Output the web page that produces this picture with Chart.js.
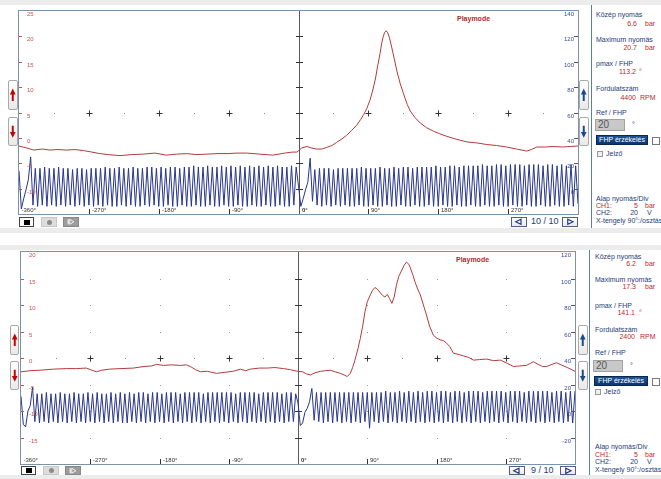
<!DOCTYPE html>
<html><head><meta charset="utf-8">
<script src="https://cdn.jsdelivr.net/npm/chart.js@4.4.1/dist/chart.umd.min.js"></script>
<style>
body{margin:0;background:#fff;width:661px;height:479px;overflow:hidden;position:relative;font-family:"Liberation Sans",Arial,sans-serif;}
.a{position:absolute;}
.band{position:absolute;background:#ececec;left:0;width:661px;}
.t{position:absolute;font-size:7px;white-space:nowrap;line-height:8px;height:8px;}
.nv{color:#1d3c78;}
.rd{color:#c0282d;}
.r{text-align:right;}
.btn{position:absolute;box-sizing:border-box;border:1px solid #a8a8a8;border-radius:2px;background:linear-gradient(#ffffff,#e9e9e9);}
.btn svg{display:block;width:100%;height:100%;}
.chk{position:absolute;box-sizing:border-box;border:1px solid #7a7a7a;background:#fff;}
.inp{position:absolute;box-sizing:border-box;border:1px solid #a2a2a2;background:#c8c8c8;color:#555;font-size:10px;line-height:10px;padding-left:2px;}
.fhp{position:absolute;box-sizing:border-box;border:1px solid #08284f;background:linear-gradient(#1c5296,#0b3670);color:#fff;font-size:7px;line-height:8px;text-align:center;}
.cv{position:absolute;}
</style></head>
<body>
<div id="ui"></div>
<div class="cv" style="left:18px;top:10px;width:561px;height:205px"><canvas id="c1" width="561" height="205"></canvas></div>
<div class="cv" style="left:20px;top:251px;width:556px;height:214px"><canvas id="c2" width="556" height="214"></canvas></div>
<script>
// ---------- shared axis data ----------
const xTickDeg = [-360, -270, -180, -90, 0, 90, 180, 270];
const xTickText = ['-360°', '-270°', '-180°', '-90°', '0°', '90°', '180°', '270°'];
const crossDeg = [-270, -180, -90, 90, 180, 270];
const dotDeg = [-315, -225, -135, -45, 45, 135, 225, 315];
const blueStartDeg = -360;
const blueStepDeg = 3;

// ---------- top panel (4400 RPM) ----------
const topCh1Ticks = [25, 20, 15, 10, 5, 0, -5, -10, -15];
const topCh2Ticks = [140, 120, 100, 80, 60, 40, 20, 0, -20];
const topRedDeg = [-360,-350,-341,-330,-320,-310,-299,-288,-277,-266,-256,-245,-230,-215,-200,-185,-170,-157,-144,-131,-118,-105,-92,-79,-66,-50,-33,-18,-8,-2,4,11,17,23,30,36,43,49,56,62,68,75,80,84,88,92,95,99,102,105,107,109,111,113,115,117,120,123,127,131,135,140,144,150,157,165,174,182,191,204,217,230,242,255,268,281,294,300,307,318,328,340,350,360];
const topRedBar = [-1.6,-2.0,-2.4,-2.2,-2.4,-2.3,-2.4,-2.3,-2.5,-2.8,-3.1,-3.3,-3.5,-3.3,-3.2,-3.0,-3.4,-3.2,-3.1,-3.3,-3.2,-3.1,-3.1,-3.0,-3.0,-3.2,-3.4,-3.0,-2.8,-2.8,-2.0,-1.7,-2.0,-2.2,-2.2,-1.9,-1.5,-0.9,-0.2,0.5,1.4,2.5,3.6,4.6,5.8,7.4,9.0,11.6,14.2,16.6,18.5,19.9,20.8,21.1,20.7,19.8,17.9,15.8,13.0,10.7,8.8,6.6,5.3,4.0,2.9,2.0,1.3,0.8,0.3,-0.3,-0.8,-1.0,-1.3,-1.5,-1.8,-2.2,-2.6,-2.3,-1.8,-1.8,-1.7,-1.8,-1.7,-1.6];
const topBlueV = [
  14,-16,-8,-1,7,25,
  -13,16,-14,16,-13,17,-14,16,-13,16,-14,17,-13,16,-14,16,-13,15,-14,16,
  -13,16,-14,15,-13,16,-14,16,-13,16,-14,17,-13,16,-14,16,-14,17,-13,16,
  -14,16,-13,17,-14,16,-14,16,-13,17,-14,17,-13,16,-14,17,-14,16,-13,17,
  -14,17,-14,16,-13,17,-14,17,-14,18,-13,17,-14,17,-14,18,-13,17,-14,17,
  -14,18,-13,17,-14,18,-14,17,-13,18,-14,17,-14,18,-13,17,-14,18,-14,17,
  -13,18,-14,17,-14,18,-13,17,-14,17,-14,18,-13,17,
  2,
  -14,-8,-1,5,24,
  -10,15,-13,16,-14,16,-13,16,-14,15,-13,16,-14,16,-13,16,-14,16,-14,16,
  -13,17,-14,16,-14,16,-13,16,-14,17,-14,16,-13,16,-14,17,-14,16,-13,17,
  -14,17,-14,16,-13,17,-14,17,-14,17,-13,17,-14,18,-14,17,-13,17,-14,18,
  -14,18,-13,17,-14,18,-14,18,-13,18,-14,18,-14,19,-13,18,-14,18,-14,19,
  -13,19,-14,18,-14,19,-13,19,-14,19,-14,18,-13,19,-14,19,-14,19,-13,18,
  -14,19,-14,19,-13,18,-14,19,-14,18,-13,19,-14,18,
  -12
];

// ---------- bottom panel (2400 RPM) ----------
const botCh1Ticks = [20, 15, 10, 5, 0, -5, -10, -15, -20];
const botCh2Ticks = [120, 100, 80, 60, 40, 20, 0, -20, -40];
const botRedDeg = [-360,-348,-335,-318,-301,-288,-275,-268,-262,-255,-245,-230,-214,-200,-190,-184,-175,-165,-153,-145,-140,-133,-127,-118,-106,-95,-84,-75,-68,-62,-50,-40,-30,-19,-10,-1,6,11,16,22,29,36,42,48,55,60,64,68,71,74,78,81,84,87,90,94,97,100,103,107,110,113,116,119,122,125,128,131,135,138,141,144,146,149,152,155,159,163,167,171,176,180,185,189,193,197,202,208,215,222,228,236,245,254,263,272,280,288,297,302,306,312,318,323,330,336,342,350,360];
const botRedBar = [-2.6,-2.4,-2.3,-2.1,-2.0,-2.0,-1.9,-2.3,-2.6,-2.3,-2.1,-2.0,-1.9,-1.6,-1.5,-1.2,-1.4,-1.3,-1.4,-1.3,-1.6,-2.2,-2.6,-2.5,-2.9,-2.7,-2.5,-2.1,-2.4,-2.1,-1.9,-1.9,-1.8,-2.0,-2.2,-2.5,-2.6,-3.0,-3.2,-2.8,-2.5,-2.4,-2.3,-2.6,-2.9,-3.2,-3.5,-2.9,-1.8,-0.4,1.8,3.7,6.0,8.7,10.6,11.9,12.8,13.3,13.0,12.3,11.8,11.5,12.0,11.2,10.3,11.5,13.8,15.4,16.6,17.5,18.1,17.7,17.0,15.8,14.4,13.2,11.9,10.0,8.1,6.0,4.3,3.8,3.4,3.3,2.8,2.2,0.9,0.7,0.4,0.1,-0.4,-0.3,-0.2,-0.5,-0.4,-1.0,-1.6,-1.5,-1.4,-1.0,-0.7,-1.2,-1.6,-1.6,-1.2,-0.9,-1.3,-1.8,-2.5];
const botBlueV = [
  11,-10,-12,0,4,18,
  -8,13,-9,13,-8,14,-9,13,-8,13,-9,14,-8,13,-9,13,-8,14,-9,13,
  -8,13,-9,14,-8,13,-9,14,-8,13,-9,13,-8,14,-9,13,-8,14,-9,13,
  -9,14,-8,13,-9,14,-8,14,-9,13,-8,14,-9,14,-8,13,-9,14,-8,14,
  -9,14,-8,13,-9,14,-8,14,-9,14,-8,14,-9,13,-8,14,-9,14,-8,14,
  -9,14,-8,14,-9,14,-8,13,-9,14,-8,14,-9,14,-8,14,-9,13,-8,14,
  -9,14,-8,14,-9,14,-8,13,-9,14,-8,14,-8,13,
  6,
  -11,-9,-1,2,7,17,
  -7,14,-8,14,-9,14,-8,14,-9,14,-8,14,-9,14,-8,14,-9,14,-8,14,
  -9,14,-8,14,-13,14,-8,14,-9,14,-8,15,-9,14,-8,14,-9,15,-8,14,
  -9,15,-8,14,-9,15,-8,14,-9,15,-8,15,-9,14,-8,15,-9,15,-8,14,
  -9,15,-8,15,-9,14,-8,15,-9,15,-8,15,-9,14,-8,15,-9,15,-8,15,
  -9,15,-8,14,-9,15,-8,15,-9,15,-8,14,-9,15,-8,15,-9,15,-8,15,
  -9,15,-8,14,-9,15,-8,15,-9,14,-8,15,-9,15
];

// ---------- scope decoration plugin (uses the chart's own scales) ----------
const scopePlugin = {
  id: 'scope',
  beforeDatasetsDraw(chart, args, o) {
    const ctx = chart.ctx, a = chart.chartArea, x = chart.scales.x, y = chart.scales.y;
    ctx.save();
    if (o.gridDots) {
      ctx.fillStyle = '#9c9c9c';
      for (const d of crossDeg) for (const v of o.ch1Ticks) {
        if (v === o.center) continue;
        const px = Math.round(x.getPixelForValue(d)), py = Math.round(y.getPixelForValue(v));
        if (py <= a.top + 1 || py >= a.bottom - 1) continue;
        ctx.fillRect(px, py, 1, 1);
      }
    }
    const cx = Math.round(x.getPixelForValue(0)) + 0.5;
    ctx.strokeStyle = '#5a5a5a'; ctx.lineWidth = 1;
    ctx.beginPath(); ctx.moveTo(cx, a.top); ctx.lineTo(cx, a.bottom); ctx.stroke();
    ctx.strokeStyle = '#333';
    ctx.beginPath();
    for (const v of o.ch1Ticks) {
      const py = Math.round(y.getPixelForValue(v)) + 0.5;
      if (py <= a.top + 1 || py >= a.bottom - 1) continue;
      ctx.moveTo(cx - 3.5, py); ctx.lineTo(cx + 3.5, py);
    }
    const cy = Math.round(y.getPixelForValue(o.center)) + 0.5;
    for (const d of crossDeg) {
      const px = Math.round(x.getPixelForValue(d)) + 0.5;
      ctx.moveTo(px - 3, cy); ctx.lineTo(px + 3, cy);
      ctx.moveTo(px, cy - 3); ctx.lineTo(px, cy + 3);
    }
    ctx.stroke();
    ctx.fillStyle = '#8a8a8a';
    for (const d of dotDeg) {
      const px = Math.round(x.getPixelForValue(d));
      ctx.fillRect(px, cy - 0.5, 1, 1);
    }
    ctx.restore();
  },
  afterDatasetsDraw(chart, args, o) {
    const ctx = chart.ctx, a = chart.chartArea, x = chart.scales.x, y = chart.scales.y, y2 = chart.scales.y2;
    ctx.save();
    ctx.font = '6px "Liberation Sans", Arial, sans-serif';
    ctx.lineWidth = 1;
    // left (CH1) labels
    ctx.fillStyle = '#c25450'; ctx.strokeStyle = '#c25450';
    ctx.textAlign = 'left'; ctx.textBaseline = 'top';
    ctx.beginPath();
    for (const v of o.ch1Ticks) {
      const py = Math.round(y.getPixelForValue(v));
      if (py >= a.bottom - 2) continue;
      if (py > a.top + 1) { ctx.moveTo(a.left, py + 0.5); ctx.lineTo(a.left + 3, py + 0.5); }
      ctx.fillText(String(v), a.left + 8, py + 0.5);
    }
    ctx.stroke();
    // right (CH2) labels
    ctx.fillStyle = '#3b4a9c'; ctx.strokeStyle = '#555';
    ctx.textAlign = 'right';
    ctx.beginPath();
    for (const v of o.ch2Ticks) {
      const py = Math.round(y2.getPixelForValue(v));
      if (py >= a.bottom - 2) continue;
      if (py > a.top + 1) { ctx.moveTo(a.right - 4, py + 0.5); ctx.lineTo(a.right, py + 0.5); }
      ctx.fillText(String(v), a.right - 4, py + 0.5);
    }
    ctx.stroke();
    // x labels
    ctx.fillStyle = '#333'; ctx.strokeStyle = '#333';
    ctx.textAlign = 'left'; ctx.textBaseline = 'bottom';
    ctx.beginPath();
    xTickDeg.forEach((d, i) => {
      const px = Math.round(x.getPixelForValue(d)) + 0.5;
      if (d !== 0 && d !== -360) { ctx.moveTo(px, a.bottom - 5); ctx.lineTo(px, a.bottom); }
      ctx.font = (d === 0 ? 'bold ' : '') + '6px "Liberation Sans", Arial, sans-serif';
      ctx.fillText(xTickText[i], px + (d === -360 ? 2 : 2.5), a.bottom - 0.5);
    });
    ctx.stroke();
    // frame
    ctx.strokeStyle = '#7893ab';
    ctx.strokeRect(a.left - 0.5, a.top - 0.5, a.width + 1, a.height + 1);
    ctx.restore();
  }
};

function makeScope(id, redDeg, redBar, blueV, ch1Ticks, ch2Ticks, center, gridDots) {
  const redPts = redDeg.map((d, i) => ({ x: d, y: redBar[i] }));
  const bluePts = blueV.map((v, i) => ({ x: blueStartDeg + i * blueStepDeg, y: v }));
  return new Chart(document.getElementById(id), {
    type: 'line',
    data: {
      datasets: [
        { data: bluePts, yAxisID: 'y2', borderColor: '#28358c', borderWidth: 1, pointRadius: 0, tension: 0 },
        { data: redPts, yAxisID: 'y', borderColor: '#b53a3a', borderWidth: 1, pointRadius: 0, tension: 0 }
      ]
    },
    options: {
      responsive: false, animation: false, devicePixelRatio: 1, events: [],
      layout: { padding: { left: 1, right: 1, top: 1, bottom: 1 } },
      plugins: {
        legend: { display: false }, tooltip: { enabled: false },
        scope: { ch1Ticks, ch2Ticks, center, gridDots }
      },
      scales: {
        x: { type: 'linear', min: -360, max: 360, display: false },
        y: { min: ch1Ticks[ch1Ticks.length - 1], max: ch1Ticks[0], display: false },
        y2: { min: ch2Ticks[ch2Ticks.length - 1], max: ch2Ticks[0], display: false, position: 'right' }
      }
    },
    plugins: [scopePlugin]
  });
}

makeScope('c1', topRedDeg, topRedBar, topBlueV, topCh1Ticks, topCh2Ticks, 5, false);
makeScope('c2', botRedDeg, botRedBar, botBlueV, botCh1Ticks, botCh2Ticks, 0, true);

// ---------- surrounding UI (static text / controls) ----------
const upArrow = c => `<svg viewBox="0 0 10 30" preserveAspectRatio="none"><polygon points="5,8 1.2,14.5 3.7,14.5 3.7,21.5 6.3,21.5 6.3,14.5 8.8,14.5" fill="${c}"/></svg>`;
const dnArrow = c => `<svg viewBox="0 0 10 30" preserveAspectRatio="none"><polygon points="5,22 1.2,15.5 3.7,15.5 3.7,8.5 6.3,8.5 6.3,15.5 8.8,15.5" fill="${c}"/></svg>`;
const navL = `<svg viewBox="0 0 16 10"><polygon points="4,5 11,1.5 11,8.5" fill="#fff" stroke="#1d3c78" stroke-width="1.6"/></svg>`;
const navR = `<svg viewBox="0 0 16 10"><polygon points="12,5 5,1.5 5,8.5" fill="#fff" stroke="#1d3c78" stroke-width="1.6"/></svg>`;

function box(l, t, w, h, cls, inner, style) {
  return `<div class="${cls}" style="left:${l}px;top:${t}px;width:${w}px;height:${h}px;${style || ''}">${inner || ''}</div>`;
}
function txt(l, t, s, cls, style) {
  return `<div class="t ${cls}" style="left:${l}px;top:${t}px;${style || ''}">${s}</div>`;
}
function rtxt(r, t, s, cls, style) {
  return `<div class="t r ${cls}" style="left:${r - 40}px;width:40px;top:${t}px;${style || ''}">${s}</div>`;
}

function panel(p) {
  let h = '';
  h += `<div class="band" style="top:${p.bandTop}px;height:${p.bandTopH}px"></div>`;
  h += `<div class="band" style="top:${p.bandBot}px;height:${p.bandBotH}px"></div>`;
  h += box(p.sepX, p.sepTop, 1, p.sepH, 'a', '', 'background:#5d7f9e');
  // side arrows
  h += box(p.lBtnX, p.upTop, 9.5, 30, 'btn', upArrow('#c40000'));
  h += box(p.lBtnX, p.dnTop, 9.5, 29, 'btn', dnArrow('#c40000'));
  h += box(p.rBtnX, p.upTop, 9.5, 30, 'btn', upArrow('#1a4a8a'));
  h += box(p.rBtnX, p.dnTop, 9.5, 29, 'btn', dnArrow('#1a4a8a'));
  // transport buttons
  const by = p.ctrlTop;
  h += box(p.ctrlX, by, 15, 9.5, 'a', '<div style="position:absolute;left:4px;top:1.5px;width:6px;height:5px;background:#000"></div>', 'box-sizing:border-box;border:1px solid #444;background:#fff');
  h += box(p.ctrlX + 22, by, 16, 9.5, 'a', '<div style="position:absolute;left:5px;top:1.5px;width:5px;height:5px;border-radius:50%;background:#8c8c8c"></div>', 'box-sizing:border-box;border:1px solid #c8c8c8;background:#dcdcdc');
  h += box(p.ctrlX + 44, by, 16, 9.5, 'a', '<svg viewBox="0 0 16 9" style="display:block;width:100%;height:100%"><rect x="4" y="1.5" width="1.3" height="6" fill="#fff"/><polygon points="6.5,1.5 11.5,4.5 6.5,7.5" fill="none" stroke="#fff" stroke-width="1"/></svg>', 'box-sizing:border-box;border:1px solid #888;background:#9c9c9c');
  // frame navigation
  h += box(p.navL, by, 15.5, 9.5, 'btn', navL, 'border-color:#50607e;border-radius:0');
  h += `<div class="a nv" style="left:${p.navTxt}px;top:${by - 1}px;font-size:9px;line-height:11px;white-space:nowrap">${p.frame}</div>`;
  h += box(p.navR, by, 16, 9.5, 'btn', navR, 'border-color:#50607e;border-radius:0');
  // Playmode
  h += txt(p.playX, p.playY, 'Playmode', 'rd', 'font-weight:bold;color:#b22a2c');
  // info column
  const L = p.infoX, y = p.infoY;
  h += txt(L, y[0], 'Közép nyomás', 'nv');
  h += rtxt(p.numR, y[1], p.mean, 'rd'); h += txt(645, y[1], 'bar', 'rd');
  h += txt(L, y[2], 'Maximum nyomás', 'nv');
  h += rtxt(p.numR, y[3], p.max, 'rd'); h += txt(645, y[3], 'bar', 'rd');
  h += txt(L, y[4], 'pmax / FHP', 'nv');
  h += rtxt(p.numR - 1, y[5], p.pmax, 'rd'); h += txt(639, y[5], '°', 'rd');
  h += txt(L, y[6], 'Fordulatszám', 'nv');
  h += rtxt(p.numR - 1, y[7], p.rpm, 'rd'); h += txt(640, y[7], 'RPM', 'rd');
  h += txt(L, y[8], 'Ref / FHP', 'nv');
  h += box(p.inpX, p.inpY, 29.5, 12, 'inp', '20');
  h += txt(p.inpX + 37, p.inpY + 2, '°', 'nv');
  h += box(p.inpX + 1, p.fhpY, p.fhpW, 10, 'fhp', 'FHP érzékelés');
  h += box(p.inpX + p.fhpW + 5, p.fhpY + 1.5, 8, 8, 'chk', '');
  h += box(p.inpX + 2, p.jelY, 6, 6, 'chk', '', 'border-color:#9a9a9a;background:#efefef');
  h += txt(p.inpX + 11, p.jelY - 1, 'Jelző', 'nv');
  h += txt(L, y[9], 'Alap nyomás/Div', 'nv');
  h += txt(L, y[10], 'CH1:', 'rd'); h += rtxt(638, y[10], '5', 'rd'); h += txt(645, y[10], 'bar', 'rd');
  h += txt(L, y[11], 'CH2:', 'nv'); h += rtxt(638, y[11], '20', 'nv'); h += txt(647, y[11], 'V', 'nv');
  h += txt(L, y[12], 'X-tengely 90°:/osztás', 'nv');
  return h;
}

document.getElementById('ui').innerHTML =
  panel({ bandTop: 0, bandTopH: 5, bandBot: 228, bandBotH: 5, sepX: 591, sepTop: 5, sepH: 223,
          lBtnX: 8, rBtnX: 579, upTop: 80, dnTop: 117, ctrlX: 19, ctrlTop: 217, navL: 511, navTxt: 531, navR: 561.5, frame: '10 / 10',
          playX: 457, playY: 15, infoX: 596, numR: 637, infoY: [11, 20, 36, 44, 60, 68, 85, 94, 109, 195, 202, 209, 217],
          mean: '6.6', max: '20.7', pmax: '113.2', rpm: '4400', inpX: 595, inpY: 119, fhpY: 135, fhpW: 52, jelY: 151 }) +
  panel({ bandTop: 245, bandTopH: 5, bandBot: 475, bandBotH: 4, sepX: 589, sepTop: 250, sepH: 225,
          lBtnX: 9.5, rBtnX: 578, upTop: 325, dnTop: 361, ctrlX: 21, ctrlTop: 465.5, navL: 509, navTxt: 531, navR: 559.5, frame: '9 / 10',
          playX: 456, playY: 256, infoX: 595, numR: 636, infoY: [253, 260, 276, 283, 302, 309, 326, 333, 349, 443, 451, 458, 466],
          mean: '6.2', max: '17.3', pmax: '141.1', rpm: '2400', inpX: 593, inpY: 360, fhpY: 376, fhpW: 54, jelY: 389 });
</script>
</body></html>
